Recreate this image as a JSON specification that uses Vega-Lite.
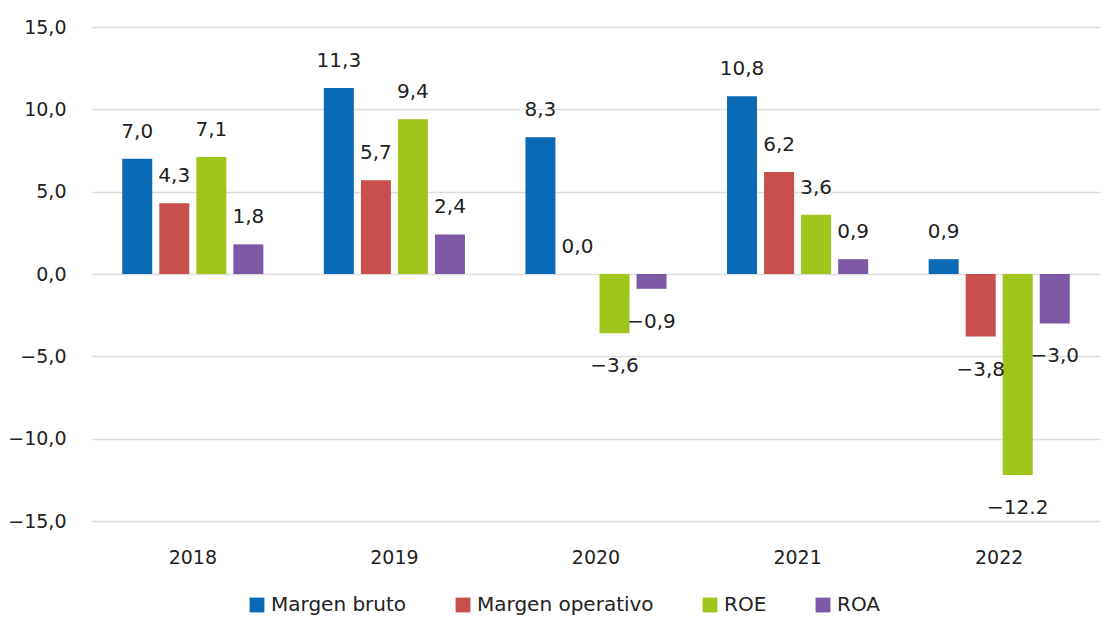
{
  "$schema": "https://vega.github.io/schema/vega-lite/v6.json",
  "autosize": "none",
  "width": 1008,
  "height": 494,
  "padding": {"left": 92, "top": 27, "right": 9, "bottom": 112},
  "background": "white",
  "config": {
    "font": "DejaVu Sans",
    "view": {"stroke": null}
  },
  "data": {
    "values": [
      {"year": "2018", "serie": "Margen bruto", "valor": 7.0, "label": "7,0"},
      {"year": "2018", "serie": "Margen operativo", "valor": 4.3, "label": "4,3"},
      {"year": "2018", "serie": "ROE", "valor": 7.1, "label": "7,1"},
      {"year": "2018", "serie": "ROA", "valor": 1.8, "label": "1,8"},
      {"year": "2019", "serie": "Margen bruto", "valor": 11.3, "label": "11,3"},
      {"year": "2019", "serie": "Margen operativo", "valor": 5.7, "label": "5,7"},
      {"year": "2019", "serie": "ROE", "valor": 9.4, "label": "9,4"},
      {"year": "2019", "serie": "ROA", "valor": 2.4, "label": "2,4"},
      {"year": "2020", "serie": "Margen bruto", "valor": 8.3, "label": "8,3"},
      {"year": "2020", "serie": "Margen operativo", "valor": 0.0, "label": "0,0"},
      {"year": "2020", "serie": "ROE", "valor": -3.6, "label": "−3,6"},
      {"year": "2020", "serie": "ROA", "valor": -0.9, "label": "−0,9"},
      {"year": "2021", "serie": "Margen bruto", "valor": 10.8, "label": "10,8"},
      {"year": "2021", "serie": "Margen operativo", "valor": 6.2, "label": "6,2"},
      {"year": "2021", "serie": "ROE", "valor": 3.6, "label": "3,6"},
      {"year": "2021", "serie": "ROA", "valor": 0.9, "label": "0,9"},
      {"year": "2022", "serie": "Margen bruto", "valor": 0.9, "label": "0,9"},
      {"year": "2022", "serie": "Margen operativo", "valor": -3.8, "label": "−3,8"},
      {"year": "2022", "serie": "ROE", "valor": -12.2, "label": "−12.2"},
      {"year": "2022", "serie": "ROA", "valor": -3.0, "label": "−3,0"}
    ]
  },
  "encoding": {
    "x": {
      "field": "year", "type": "nominal",
      "scale": {"paddingInner": 0.3, "paddingOuter": 0.15},
      "axis": {"title": null, "labelAngle": 0, "domain": false, "ticks": false, "labelFontSize": 19, "labelColor": "#222", "labelPadding": 27, "grid": false}
    },
    "xOffset": {
      "field": "serie", "type": "nominal",
      "sort": ["Margen bruto", "Margen operativo", "ROE", "ROA"],
      "scale": {"paddingInner": 0.19, "paddingOuter": 0}
    },
    "y": {
      "field": "valor", "type": "quantitative",
      "scale": {"domain": [-15, 15], "nice": false},
      "axis": {"title": null, "values": [-15, -10, -5, 0, 5, 10, 15], "labelExpr": "replace(format(datum.value, '.1f'), '.', ',')", "domain": false, "ticks": false, "labelFontSize": 19, "labelColor": "#222", "labelPadding": 26, "gridColor": "#dddddd", "gridWidth": 1.5}
    }
  },
  "layer": [
    {
      "mark": {"type": "bar"},
      "encoding": {
        "color": {
          "field": "serie", "type": "nominal",
          "sort": ["Margen bruto", "Margen operativo", "ROE", "ROA"],
          "scale": {"domain": ["Margen bruto", "Margen operativo", "ROE", "ROA"], "range": ["#0a6ab5", "#c84f4c", "#a0c51b", "#7d58a4"]},
          "legend": {"title": null, "orient": "none", "legendX": 155, "legendY": 568, "direction": "horizontal", "symbolType": "square", "symbolSize": 220, "symbolStrokeWidth": 0, "labelFontSize": 20, "labelColor": "#222", "labelLimit": 400, "columnPadding": 46}
        }
      }
    },
    {
      "transform": [{"filter": "datum.valor >= 0"}],
      "mark": {"type": "text", "baseline": "bottom", "dy": -17, "fontSize": 20, "color": "#222"},
      "encoding": {"text": {"field": "label"}}
    },
    {
      "transform": [{"filter": "datum.valor < 0"}],
      "mark": {"type": "text", "baseline": "top", "dy": 23, "fontSize": 20, "color": "#222"},
      "encoding": {"text": {"field": "label"}}
    }
  ]
}
